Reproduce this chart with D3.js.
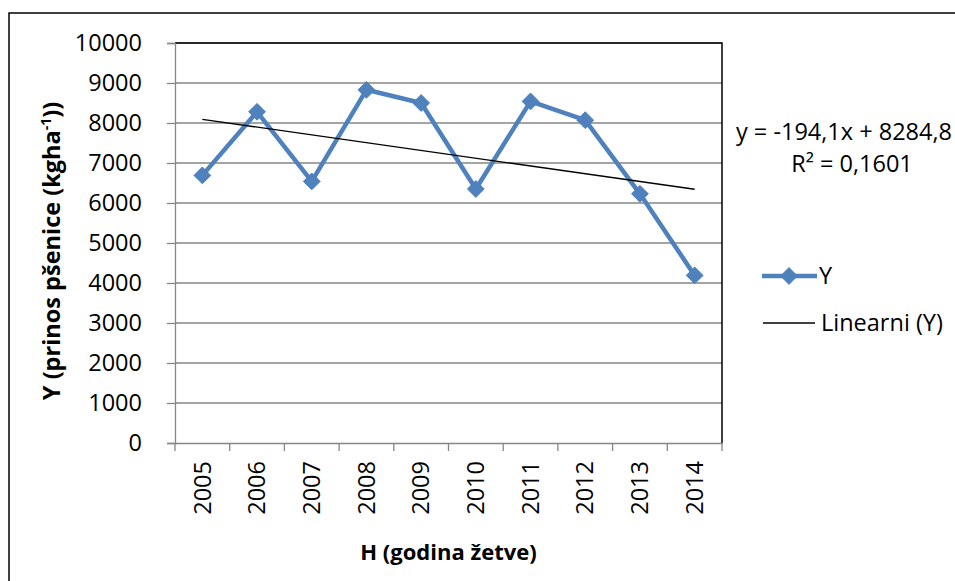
<!DOCTYPE html>
<html>
<head>
<meta charset="utf-8">
<script src="https://cdn.jsdelivr.net/npm/d3@7"></script>
<style>
  body { margin: 0; background: #fff; }
  svg text { font-family: "Open Sans", sans-serif; fill: #000; }
  .tick-label { font-size: 23.5px; }
  .axis-title { font-size: 22px; font-weight: bold; }
</style>
</head>
<body>
<div id="chart"></div>
<script>
// data
const years = ['2005', '2006', '2007', '2008', '2009', '2010', '2011', '2012', '2013', '2014'];
const yields = [6690, 8280, 6540, 8830, 8500, 6350, 8540, 8070, 6230, 4190];
const yTicks = [0, 1000, 2000, 3000, 4000, 5000, 6000, 7000, 8000, 9000, 10000];
const trendSlope = -194.1;
const trendIntercept = 8284.8;
const trendLabel = ['y = -194,1x + 8284,8', 'R\u00B2 = 0,1601'];

document.addEventListener('DOMContentLoaded', function () {
  drawChart();
});

function drawChart() {
  const W = 955, H = 581;
  const left = 175, right = 722, top = 43, bottom = 443;
  const blue = '#4F81BD';
  const grid = '#868686';

  const svg = d3.select('#chart').append('svg')
    .attr('width', W).attr('height', H);

  // outer chart border (runs off right and bottom edge)
  svg.append('rect')
    .attr('x', 9).attr('y', 13)
    .attr('width', 1000).attr('height', 700)
    .attr('fill', 'none').attr('stroke', '#000').attr('stroke-width', 1.5);

  const x = d3.scaleBand().domain(years).range([left, right]).padding(0);
  const y = d3.scaleLinear().domain([0, 10000]).range([bottom, top]);
  const cx = d => x(d) + x.bandwidth() / 2;

  // gridlines
  svg.append('g').selectAll('line')
    .data(yTicks.filter(t => t > 0))
    .enter().append('line')
    .attr('x1', left).attr('x2', right)
    .attr('y1', d => y(d)).attr('y2', d => y(d))
    .attr('stroke', grid).attr('stroke-width', 1.3);

  // plot area border top/right
  svg.append('path')
    .attr('d', `M${left},${top}H${right}V${bottom}`)
    .attr('fill', 'none').attr('stroke', '#000').attr('stroke-width', 1.5);

  // y axis
  const yAxis = svg.append('g')
    .attr('transform', `translate(${left},0)`)
    .call(d3.axisLeft(y).tickValues(yTicks).tickFormat(d3.format('d')).tickSize(8).tickPadding(25));
  yAxis.select('.domain').attr('stroke', grid).attr('stroke-width', 1.3);
  yAxis.selectAll('.tick line').attr('stroke', grid).attr('stroke-width', 1.3);
  yAxis.selectAll('.tick text')
    .attr('class', 'tick-label')
    .attr('font-family', null).attr('font-size', null)
    .attr('fill', '#000');

  // x axis
  const xAxis = svg.append('g')
    .attr('transform', `translate(0,${bottom})`)
    .call(d3.axisBottom(x).tickSize(0).tickSizeOuter(0));
  xAxis.select('.domain').attr('stroke', grid).attr('stroke-width', 1.3);
  xAxis.selectAll('.tick text')
    .attr('class', 'tick-label')
    .attr('font-family', null).attr('font-size', null)
    .attr('fill', '#000')
    .attr('transform', 'rotate(-90)')
    .attr('x', -18).attr('y', 0).attr('dy', '0.35em')
    .attr('text-anchor', 'end');

  // tick marks at category boundaries
  const bounds = years.map(d => x(d)).concat([x(years[years.length - 1]) + x.bandwidth()]);
  xAxis.append('g').selectAll('line')
    .data(bounds).enter().append('line')
    .attr('x1', d => d).attr('x2', d => d)
    .attr('y1', 0).attr('y2', 8)
    .attr('stroke', grid).attr('stroke-width', 1.3);

  // axis titles
  svg.append('text')
    .attr('class', 'axis-title')
    .style('font-size', '23.5px')
    .attr('transform', `translate(60,${(top + bottom) / 2 + 8}) rotate(-90)`)
    .attr('text-anchor', 'middle')
    .html('Y (prinos pšenice (kgha<tspan dy="-9" font-size="14px">-1</tspan><tspan dy="9">))</tspan>');

  svg.append('text')
    .attr('class', 'axis-title')
    .attr('x', (left + right) / 2).attr('y', 560)
    .attr('text-anchor', 'middle')
    .text('H (godina žetve)');

  // data line
  const line = d3.line().x((d, i) => cx(years[i])).y(d => y(d));
  svg.append('path')
    .datum(yields)
    .attr('d', line)
    .attr('fill', 'none').attr('stroke', blue)
    .attr('stroke-width', 4.5).attr('stroke-linejoin', 'round');

  const diamond = d3.symbol().type(d3.symbolDiamond2).size(180);
  svg.append('g').selectAll('path')
    .data(yields).enter().append('path')
    .attr('d', diamond)
    .attr('transform', (d, i) => `translate(${cx(years[i])},${y(d)})`)
    .attr('fill', blue).attr('stroke', blue).attr('stroke-width', 1);

  // linear trend
  const trend = years.map((d, i) => trendIntercept + trendSlope * (i + 1));
  svg.append('path')
    .datum([trend[0], trend[trend.length - 1]])
    .attr('d', d3.line()
      .x((d, i) => cx(years[i === 0 ? 0 : years.length - 1]))
      .y(d => y(d)))
    .attr('fill', 'none').attr('stroke', '#000').attr('stroke-width', 1.3);

  // trend equation (first line kept inside the picture)
  svg.append('g').selectAll('text')
    .data(trendLabel).enter().append('text')
    .attr('class', 'tick-label')
    .attr('x', (d, i) => i === 0 ? 952 : 852)
    .attr('y', (d, i) => 132 + i * 32)
    .attr('dy', '0.35em')
    .attr('text-anchor', (d, i) => i === 0 ? 'end' : 'middle')
    .text(d => d);

  // legend
  const legend = svg.append('g');
  legend.append('line')
    .attr('x1', 762).attr('x2', 817).attr('y1', 276).attr('y2', 276)
    .attr('stroke', blue).attr('stroke-width', 4.5);
  legend.append('path')
    .attr('d', diamond)
    .attr('transform', 'translate(789,276)')
    .attr('fill', blue).attr('stroke', blue);
  legend.append('text')
    .attr('class', 'tick-label')
    .attr('x', 819).attr('y', 276).attr('dy', '0.35em')
    .text('Y');

  legend.append('line')
    .attr('x1', 763).attr('x2', 815).attr('y1', 323).attr('y2', 323)
    .attr('stroke', '#000').attr('stroke-width', 1.3);
  legend.append('text')
    .attr('class', 'tick-label')
    .attr('x', 821).attr('y', 323).attr('dy', '0.35em')
    .text('Linearni (Y)');
}
</script>
</body>
</html>
